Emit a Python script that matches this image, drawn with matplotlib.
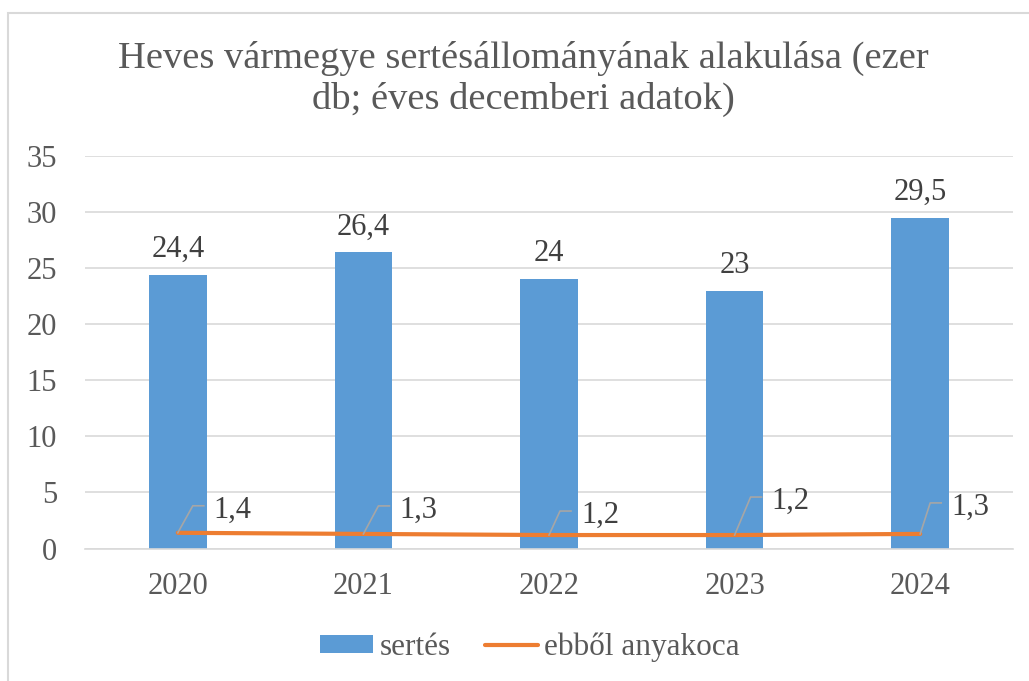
import matplotlib.pyplot as plt
from matplotlib.patches import Rectangle
import numpy as np

years = ['2020', '2021', '2022', '2023', '2024']
sertes = [24.4, 26.4, 24, 23, 29.5]
anyakoca = [1.4, 1.3, 1.2, 1.2, 1.3]

# knee of the leader line for each small label, pixels from the point (right, up)
knee_offsets = [(15, 27), (15, 28), (11, 24), (16, 38), (10, 31)]

plt.rcParams['font.family'] = ['Liberation Serif', 'DejaVu Serif']

W, H = 1029, 681
fig = plt.figure(figsize=(W / 100, H / 100), dpi=100)
ax = fig.add_axes([85 / W, (H - 548.5) / H, 928 / W, 392.5 / H])

x = np.arange(len(years))
bars = ax.bar(x, sertes, width=0.31, color='#5B9BD5', label='sertés', zorder=2)
line, = ax.plot(x, anyakoca, color='#ED7D31', lw=3, solid_capstyle='round',
                label='ebből anyakoca', zorder=3)

ax.set_xlim(-0.5, len(years) - 0.5)
ax.set_ylim(0, 35)
ax.set_yticks(range(0, 36, 5))
ax.set_xticks(x)
ax.set_xticklabels(years)
ax.grid(axis='y', color='#D9D9D9', lw=1.2, zorder=0)
for s in ['top', 'right', 'left']:
    ax.spines[s].set_visible(False)
ax.spines['bottom'].set_color('#D9D9D9')
ax.spines['bottom'].set_linewidth(1.2)
ax.tick_params(axis='both', length=0, labelsize=22, labelcolor='#595959')
ax.tick_params(axis='y', pad=20)
ax.tick_params(axis='x', pad=17)

def fmt(v):
    return f'{v:g}'.replace('.', ',')

# bar value labels
for xi, v in zip(x, sertes):
    ax.annotate(fmt(v), (xi, v), xytext=(0, 18), textcoords='offset pixels',
                ha='center', va='baseline', fontsize=22, color='#404040')

# line value labels with leader lines
inv = ax.transData.inverted()
for xi, v, (dx, dy) in zip(x, anyakoca, knee_offsets):
    px, py = ax.transData.transform((xi, v))
    pts = [(px, py), (px + dx, py + dy), (px + dx + 11, py + dy)]
    pts = inv.transform(pts)
    ax.plot(pts[:, 0], pts[:, 1], color='#A6A6A6', lw=1.2, zorder=4)
    ax.annotate(fmt(v), (xi, v), xytext=(dx + 21, dy - 12), textcoords='offset pixels',
                ha='left', va='baseline', fontsize=22, color='#404040')

fig.text(0.509, 1 - 79 / H, 'Heves vármegye sertésállományának alakulása (ezer\n'
         'db; éves decemberi adatok)', ha='center', va='center',
         fontsize=27.7, color='#595959', linespacing=1.22)

ax.legend([bars, line], ['sertés', 'ebből anyakoca'],
          loc='center', bbox_to_anchor=(530 / W, 1 - 647 / H),
          bbox_transform=fig.transFigure, ncol=2, frameon=False,
          fontsize=22.5, labelcolor='#595959', handlelength=1.7,
          handleheight=0.5, handletextpad=0.2, columnspacing=1.1)

fig.patches.append(Rectangle((8 / W, -0.1), 1.2, (1 - 13 / H) + 0.1,
                             transform=fig.transFigure, fill=False,
                             edgecolor='#D9D9D9', lw=1.5))

fig.savefig('out.png', dpi=100)
